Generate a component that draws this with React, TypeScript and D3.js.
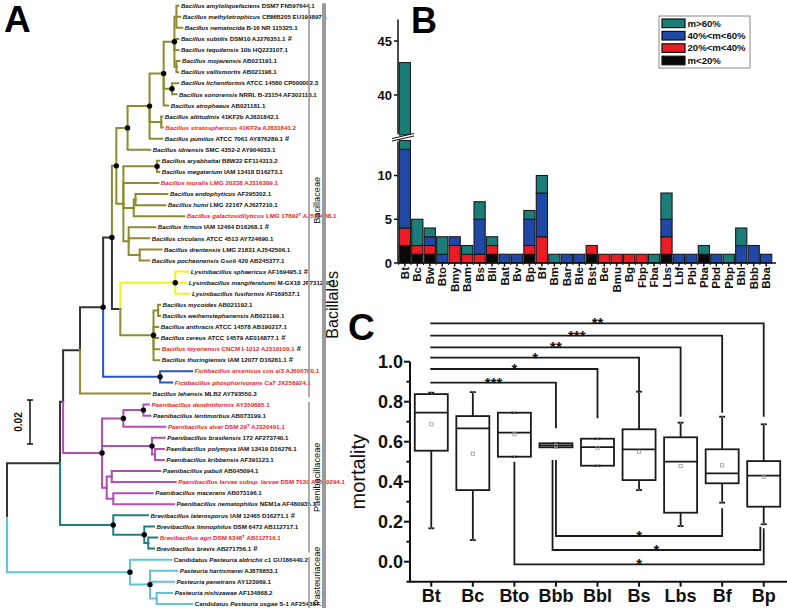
import React from 'react';
import * as d3 from 'd3';

const FONT = 'Arial, "Liberation Sans", Helvetica, sans-serif';
const INK = '#111';
const RED = '#ee1c24';

// ---------------- panel A : phylogeny ----------------
// branch lengths in substitutions/site, leaves named by their index in leafInfo
const subtilisGrp = '((0:0.0009,1:0.0018,2:0.0027)SA:0.0009,3:0.0018,4:0.0018,(5:0.0014,6:0.0009)SM:0.0009)S1:0.0049';
const s2Grp = `(${subtilisGrp},(7:0.0029,8:0.0020)L1:0.0038,9:0.0021)S2:0.0064`;
const pumilusGrp = `(${s2Grp},(10:0.0005,11:0.0007)AS:0.0053,12:0.0058)NSP:0.0100`;
const n127 = `(${pumilusGrp},13:0.0103)N127:0.0051`;
const megaGrp = '((14:0.0010,15:0.0010)AM:0.0153,16:0.0159,((17:0.0145,18:0.0136)EH:0.0008,19:0.0230)EHG:0.0047,(20:0.0121,21:0.0094,(22:0.0099,23:0.0044)DP:0.0050)FCDP:0.0024)M:0.0032';
const big1 = `(${n127},${megaGrp})BIG1:0.0020`;
const lysCer = '((24:0.0059,25:0.0050,26:0.0064)LYS:0.0250,((27:0.0009,28:0.0009)MW:0.0021,29:0.0021,30:0.0021,31:0.0026,32:0.0026)CER:0.0151)LC:0.0038';
const xNode = `(${big1},${lysCer})X:0.0040`;
const dNode = `(${xNode},(33:0.0145,34:0.0055)FICT:0.0259)D:0.0105`;
const eNode = `(${dNode},35:0.0318)E:0.0077`;
const paeni = '(((36:0.0025,37:0.0032)DL:0.0091,38:0.0191)AG:0.0097,(39:0.0058,(40:0.0040,41:0.0040)PK:0.0014)BPK:0.0227,((42:0.0221,43:0.0291)PL:0.0023,(44:0.0180,45:0.0276)MN:0.0030)PLMN:0.0021)Q:0.0177';
const gNode = `(${eNode},${paeni})G:0.0014`;
const brevi = '(46:0.0158,(47:0.0044,(48:0.0041,49:0.0026)AB:0.0018)BL:0.0141)BREV:0.0242';
const n1 = `(${gNode},${brevi})N1:0.0241`;
const pasteuria = '(50:0.0188,(51:0.0124,52:0.0109,(53:0.0071,54:0.0162)NU:0.0030)PH:0.0091)PAST:0.0559';
const treeNewick = `(${n1},${pasteuria})ROOT;`;

const dotNodes = ['S1', 'L1', 'S2', 'NSP', 'N127', 'BIG1', 'AM', 'X', 'LYS', 'D', 'CER', 'FICT', 'DL', 'AG', 'Q', 'BPK', 'BREV', 'BL', 'PAST', 'PH'];

const OLIVE = '#8c8c2e';
const cladeColors: Record<string, string> = {
  BIG1: OLIVE, CER: OLIVE, '35': OLIVE, LYS: '#f2f21a', FICT: '#2456c4',
  Q: '#b44db4', BREV: '#1f7f7f', PAST: '#62c3d8',
};

type Leaf = { pre?: string; it: string; post: string; red?: boolean; hash?: boolean };
const leafInfo: Leaf[] = [
  { it: 'Bacillus amyloliquefaciens', post: ' DSM7 FN597644.1' },
  { it: 'Bacillus methylotrophicus', post: ' CBMB205 EU194897.1' },
  { it: 'Bacillus nematocida', post: ' B-16 NR 115325.1' },
  { it: 'Bacillus subtilis', post: ' DSM10 AJ276351.1', hash: true },
  { it: 'Bacillus tequilensis', post: ' 10b HQ223107.1' },
  { it: 'Bacillus mojavensis', post: ' AB021191.1' },
  { it: 'Bacillus vallismortis', post: ' AB021198.1' },
  { it: 'Bacillus licheniformis', post: ' ATCC 14580 CP000002.3' },
  { it: 'Bacillus sonorensis', post: ' NRRL B-23154 AF302118.1' },
  { it: 'Bacillus atrophaeus', post: ' AB021181.1' },
  { it: 'Bacillus altitudinis', post: ' 41KF2b AJ831842.1' },
  { it: 'Bacillus stratosphericus', post: ' 41KF2a AJ831841.2', red: true },
  { it: 'Bacillus pumilus', post: ' ATCC 7061 AY876289.1', hash: true },
  { it: 'Bacillus idriensis', post: ' SMC 4352-2 AY904033.1' },
  { it: 'Bacillus aryabhattai', post: ' B8W22 EF114313.2' },
  { it: 'Bacillus megaterium', post: ' IAM 13418 D16273.1' },
  { it: 'Bacillus muralis', post: ' LMG 20238 AJ316309.1', red: true },
  { it: 'Bacillus endophyticus', post: ' AF295302.1' },
  { it: 'Bacillus humi', post: ' LMG 22167 AJ627210.1' },
  { it: 'Bacillus galactosidilyticus', post: ' LMG 17892^T AJ535638.1', red: true },
  { it: 'Bacillus firmus', post: ' IAM 12464 D16268.1', hash: true },
  { it: 'Bacillus circulans', post: ' ATCC 4513 AY724690.1' },
  { it: 'Bacillus drentensis', post: ' LMG 21831 AJ542506.1' },
  { it: 'Bacillus pocheonensis', post: ' Gsoil 420 AB245377.1' },
  { it: 'Lysinibacillus sphaericus', post: ' AF169495.1', hash: true },
  { it: 'Lysinibacillus mangiferahumi', post: ' M-GX18 JF731238.1' },
  { it: 'Lysinibacillus fusiformis', post: ' AF169537.1' },
  { it: 'Bacillus mycoides', post: ' AB021192.1' },
  { it: 'Bacillus weihenstephanensis', post: ' AB021199.1' },
  { it: 'Bacillus anthracis', post: ' ATCC 14578 AB190217.1' },
  { it: 'Bacillus cereus', post: ' ATCC 14579 AE016877.1', hash: true },
  { it: 'Bacillus toyonensis', post: ' CNCM I-1012 AJ310100.1', red: true, hash: true },
  { it: 'Bacillus thuringiensis', post: ' IAM 12077 D16281.1', hash: true },
  { it: 'Fictibacillus arsenicus', post: ' con a/3 AJ606700.1', red: true },
  { it: 'Fictibacillus phosphorivorans', post: ' Ca7 JX258924.1', red: true },
  { it: 'Bacillus lehensis', post: ' MLB2 AY793550.3' },
  { it: 'Paenibacillus dendritiformis', post: ' AY359885.1', red: true },
  { it: 'Paenibacillus lentimorbus', post: ' AB073199.1' },
  { it: 'Paenibacillus alvei', post: ' DSM 29^T AJ320491.1', red: true },
  { it: 'Paenibacillus brasilensis', post: ' 172 AF273740.1' },
  { it: 'Paenibacillus polymyxa', post: ' IAM 13419 D16276.1' },
  { it: 'Paenibacillus kribbensis', post: ' AF391123.1' },
  { it: 'Paenibacillus pabuli', post: ' AB045094.1' },
  { it: 'Paenibacillus larvae subsp. larvae', post: ' DSM 7030 AY530294.1', red: true },
  { it: 'Paenibacillus macerans', post: ' AB073196.1' },
  { it: 'Paenibacillus nematophilus', post: ' NEM1a AF480935.1' },
  { it: 'Brevibacillus laterosporus', post: ' IAM 12465 D16271.1', hash: true },
  { it: 'Brevibacillus limnophilus', post: ' DSM 6472 AB112717.1' },
  { it: 'Brevibacillus agri', post: ' DSM 6348^T AB112716.1', red: true },
  { it: 'Brevibacillus brevis', post: ' AB271756.1', hash: true },
  { pre: 'Candidatus ', it: 'Pasteuria aldrichii', post: ' c1 GU186440.2' },
  { it: 'Pasteuria hartismerei', post: ' AJ878853.1' },
  { it: 'Pasteuria penetrans', post: ' AY123969.1' },
  { it: 'Pasteuria nishizawae', post: ' AF134868.2' },
  { pre: 'Candidatus ', it: 'Pasteuria usgae', post: ' S-1 AF254387.1' },
];

const families = [
  { name: 'Bacillaceae', from: 0, to: 35 },
  { name: 'Paenibacillaceae', from: 36, to: 49 },
  { name: 'Pasteuriaceae', from: 50, to: 54 },
];
const orderName = 'Bacillales';
const scaleBarValue = 0.02;

// ---------------- panel B : stacked counts ----------------
const bCats = ['Bt', 'Bc', 'Bw', 'Bto', 'Bmy', 'Bam', 'Bs', 'Bli', 'Bat', 'Bv', 'Bp', 'Bf', 'Bm', 'Bar', 'Ble', 'Bst', 'Be', 'Bmu', 'Bg', 'Fbp', 'Fba', 'Lbs', 'Lbf', 'Pbl', 'Pba', 'Pbd', 'Pbp', 'Bbl', 'Bbb', 'Bba'];
const mLt20 = [2, 1, 1, 0, 0, 0, 0, 1, 0, 0, 1, 0, 0, 0, 0, 1, 0, 0, 0, 0, 0, 1, 0, 0, 1, 0, 0, 0, 0, 0];
const m20to40 = [2, 1, 1, 0, 2, 1, 1, 1, 0, 0, 1, 3, 0, 0, 0, 1, 1, 1, 1, 1, 0, 2, 0, 0, 0, 0, 0, 0, 0, 0];
const m40to60 = [9, 0, 1, 1, 1, 0, 4, 0, 1, 1, 3, 5, 0, 1, 1, 0, 0, 0, 0, 0, 0, 2, 1, 1, 0, 1, 0, 2, 2, 1];
const mGt60 = [30, 3, 1, 2, 0, 1, 2, 1, 0, 0, 1, 2, 1, 0, 0, 0, 0, 0, 0, 0, 1, 3, 0, 0, 1, 0, 1, 2, 0, 0];
const bKeys = ['lt20', 'r20', 'r40', 'gt60'];
const bLegend = [
  { key: 'gt60', label: 'm>60%' },
  { key: 'r40', label: '40%<m<60%' },
  { key: 'r20', label: '20%<m<40%' },
  { key: 'lt20', label: 'm<20%' },
];
const bColors: Record<string, string> = { gt60: '#1a7d78', r40: '#1f48a6', r20: '#ec1c24', lt20: '#0b0808' };
const bLowTicks = [0, 5, 10];
const bHighTicks = [40, 45];

// ---------------- panel C : mortality boxplots ----------------
const cCats = ['Bt', 'Bc', 'Bto', 'Bbb', 'Bbl', 'Bs', 'Lbs', 'Bf', 'Bp'];
const cMin = [0.167, 0.108, 0.525, 0.572, 0.48, 0.358, 0.178, 0.295, 0.187];
const cQ1 = [0.555, 0.358, 0.525, 0.572, 0.48, 0.408, 0.245, 0.392, 0.275];
const cMed = [0.745, 0.667, 0.645, 0.582, 0.573, 0.562, 0.5, 0.442, 0.43];
const cQ3 = [0.838, 0.728, 0.745, 0.592, 0.615, 0.662, 0.622, 0.562, 0.503];
const cMax = [0.845, 0.848, 0.745, 0.592, 0.615, 0.85, 0.695, 0.725, 0.687];
const cMean = [0.687, 0.54, 0.637, 0.58, 0.57, 0.55, 0.478, 0.482, 0.425];
const cTicks = [0, 0.2, 0.4, 0.6, 0.8, 1.0];
const cMinor = [-0.1, 0.1, 0.3, 0.5, 0.7, 0.9];
// significance brackets: from, to, level of the bar, where each leg ends
const topBrackets = [
  { a: 'Bt', b: 'Bp', level: 1.192, endB: 0.725, stars: '**' },
  { a: 'Bt', b: 'Bf', level: 1.13, endB: 0.745, stars: '***' },
  { a: 'Bt', b: 'Lbs', level: 1.072, endB: 0.725, stars: '**' },
  { a: 'Bt', b: 'Bs', level: 1.02, endB: 0.85, stars: '*' },
  { a: 'Bt', b: 'Bbl', level: 0.9635, endB: 0.717, stars: '*' },
  { a: 'Bt', b: 'Bbb', level: 0.895, endB: 0.667, stars: '***' },
];
const lowBrackets = [
  { a: 'Bbb', b: 'Bf', level: 0.1285, endA: 0.508, endB: 0.267, nudge: 0, stars: '*' },
  { a: 'Bbb', b: 'Bp', level: 0.0585, endA: 0.508, endB: 0.175, nudge: -1, stars: '*' },
  { a: 'Bto', b: 'Bp', level: -0.013, endA: 0.5, endB: 0.167, nudge: 0, stars: '*' },
];

// ---------- helpers ----------
type NwNode = { name: string; len: number; children?: NwNode[] };
function parseNewick(s: string): NwNode {
  let i = 0;
  const read = (): NwNode => {
    const kids: NwNode[] = [];
    if (s[i] === '(') {
      i++;
      kids.push(read());
      while (s[i] === ',') { i++; kids.push(read()); }
      i++;
    }
    let name = '';
    while (i < s.length && !',():;'.includes(s[i])) name += s[i++];
    let len = 0;
    if (s[i] === ':') {
      i++;
      let l = '';
      while (i < s.length && !',();'.includes(s[i])) l += s[i++];
      len = +l;
    }
    return kids.length ? { name, len, children: kids } : { name, len };
  };
  return read();
}

function Tree() {
  const tx = d3.scaleLinear().domain([0, 0.1]).range([7, 227]);
  const ty = d3.scaleLinear().domain([0, leafInfo.length - 1]).range([5.7, 604]);
  const root: any = d3.hierarchy(parseNewick(treeNewick));
  root.eachBefore((n: any) => {
    n.dist = n.parent ? n.parent.dist + n.data.len : 0;
    n.col = cladeColors[n.data.name] ?? (n.parent ? n.parent.col : '#333');
  });
  root.eachAfter((n: any) => {
    n.yy = n.children ? (n.children[0].yy + n.children[n.children.length - 1].yy) / 2 : ty(+n.data.name);
  });
  const nodes = root.descendants();
  const links = nodes.filter((n: any) => n.parent);

  const label = (n: any) => {
    const info = leafInfo[+n.data.name];
    const [a, b] = info.post.split('^T');
    return (
      <text key={'t' + n.data.name} x={tx(n.dist) + 2.5} y={n.yy} dy="0.35em" fontSize={6.2}
        fontWeight="bold" fill={info.red ? RED : INK}>
        {info.pre && <tspan>{info.pre}</tspan>}
        <tspan fontStyle="italic">{info.it}</tspan>
        <tspan>{a}</tspan>
        {b !== undefined && <tspan dy={-2} fontSize={4.3}>T</tspan>}
        {b !== undefined && <tspan dy={2}>{b}</tspan>}
        {info.hash && <tspan fill={INK} fontSize={7.5}> #</tspan>}
      </text>
    );
  };

  const barX0 = 309;
  const barX1 = 324;
  return (
    <g>
      {links.map((n: any, i: number) => (
        <path key={'l' + i} d={`M${tx(n.parent.dist)},${n.parent.yy}V${n.yy}H${tx(n.dist)}`}
          fill="none" stroke={n.col} strokeWidth={2} strokeLinecap="square" />
      ))}
      {nodes.filter((n: any) => dotNodes.includes(n.data.name)).map((n: any) => (
        <circle key={'d' + n.data.name} cx={tx(n.dist)} cy={n.yy} r={2.7} fill="#000" />
      ))}
      {root.leaves().map(label)}
      {/* scale bar */}
      <g stroke={INK} strokeWidth={1.5}>
        <line x1={30} x2={30} y1={400} y2={400 + tx(scaleBarValue) - tx(0)} />
        <line x1={27} x2={33} y1={400} y2={400} />
        <line x1={27} x2={33} y1={400 + tx(scaleBarValue) - tx(0)} y2={400 + tx(scaleBarValue) - tx(0)} />
      </g>
      <text transform={`translate(22,${400 + (tx(scaleBarValue) - tx(0)) / 2}) rotate(-90)`} textAnchor="middle"
        fontSize={10} fontWeight="bold" fill={INK}>{scaleBarValue.toFixed(2)}</text>
      {/* family / order brackets */}
      {families.map((f) => {
        const y0 = ty(f.from) - 2.5;
        const y1 = ty(f.to) + 4;
        const mid = Math.min((y0 + y1) / 2, 576);
        return (
          <g key={f.name}>
            <line x1={barX0} x2={barX0} y1={y0} y2={y1} stroke="#9a9a9a" strokeWidth={1.6} />
            <text transform={`translate(${barX0 + 11},${mid}) rotate(-90)`} textAnchor="middle"
              fontSize={9.2} fill={INK}>{f.name}</text>
          </g>
        );
      })}
      <line x1={barX1} x2={barX1} y1={ty(0) - 2.5} y2={ty(leafInfo.length - 1) + 4} stroke="#9a9a9a" strokeWidth={4} />
      <text transform={`translate(${barX1 + 14},${(ty(0) + ty(leafInfo.length - 1)) / 2}) rotate(-90)`}
        textAnchor="middle" fontSize={16} fill={INK}>{orderName}</text>
    </g>
  );
}

function PanelB() {
  const rows = bCats.map((c, i) => ({ cat: c, lt20: mLt20[i], r20: m20to40[i], r40: m40to60[i], gt60: mGt60[i] }));
  const series = d3.stack<any>().keys(bKeys)(rows);
  const x = d3.scaleBand().domain(bCats).range([398, 773]).padding(0.1);
  const yLow = d3.scaleLinear().domain([0, 14]).range([263, 140.5]);
  const yHigh = d3.scaleLinear().domain([36.3, 47]).range([135, 19.4]);
  const lowTop = yLow.domain()[1];
  const highBottom = yHigh.domain()[0];

  const rects: any[] = [];
  series.forEach((s) => {
    s.forEach((d: any, i: number) => {
      const [v0, v1] = d;
      if (v1 <= v0) return;
      const xx = x(bCats[i])!;
      if (v0 < lowTop) {
        const top = Math.min(v1, lowTop);
        rects.push(<rect key={`${s.key}-${i}-l`} x={xx} width={x.bandwidth()} y={yLow(top)} height={yLow(v0) - yLow(top)}
          fill={bColors[s.key]} stroke="#1a1a1a" strokeWidth={1.1} />);
      }
      if (v1 > highBottom) {
        const bot = Math.max(v0, highBottom);
        rects.push(<rect key={`${s.key}-${i}-h`} x={xx} width={x.bandwidth()} y={yHigh(v1)} height={yHigh(bot) - yHigh(v1)}
          fill={bColors[s.key]} stroke="#1a1a1a" strokeWidth={1.1} />);
      }
    });
  });

  const axX = 398;
  return (
    <g fontFamily={FONT}>
      {rects}
      {/* axis break */}
      <polygon points={`392,141 414,136 414,133.5 392,138.5`} fill="#fff" />
      <line x1={392} y1={141} x2={414} y2={136} stroke="#111" strokeWidth={1} />
      <line x1={392} y1={138.5} x2={414} y2={133.5} stroke="#111" strokeWidth={1} />
      <g stroke="#111" strokeWidth={1.5}>
        <line x1={axX} x2={axX} y1={yLow(0)} y2={yLow(lowTop) + 1} />
        <line x1={axX} x2={axX} y1={yHigh(highBottom) - 1} y2={yHigh(47)} />
        <line x1={axX} x2={776} y1={yLow(0)} y2={yLow(0)} />
        {bLowTicks.map((t) => <line key={'lt' + t} x1={axX - 4} x2={axX} y1={yLow(t)} y2={yLow(t)} />)}
        {bHighTicks.map((t) => <line key={'ht' + t} x1={axX - 4} x2={axX} y1={yHigh(t)} y2={yHigh(t)} />)}
        {bCats.map((c) => (
          <line key={'xt' + c} x1={x(c)! + x.bandwidth() / 2} x2={x(c)! + x.bandwidth() / 2} y1={yLow(0)} y2={yLow(0) + 3.5} />
        ))}
        {bCats.map((c) => (
          <line key={'xm' + c} x1={x(c)! - x.step() * x.paddingInner() / 2} x2={x(c)! - x.step() * x.paddingInner() / 2}
            y1={yLow(0)} y2={yLow(0) + 2} strokeWidth={1} />
        ))}
      </g>
      {bLowTicks.map((t) => (
        <text key={'ltl' + t} x={axX - 6} y={yLow(t)} dy="0.35em" textAnchor="end" fontSize={13} fontWeight="bold" fill={INK}>{t}</text>
      ))}
      {bHighTicks.map((t) => (
        <text key={'htl' + t} x={axX - 6} y={yHigh(t)} dy="0.35em" textAnchor="end" fontSize={13} fontWeight="bold" fill={INK}>{t}</text>
      ))}
      {bCats.map((c) => (
        <text key={'xl' + c} transform={`translate(${x(c)! + x.bandwidth() / 2},${yLow(0) + 4}) rotate(-90)`}
          dy="0.36em" textAnchor="end" fontSize={11.5} fontWeight="bold" fill={INK}>{c}</text>
      ))}
      {/* legend */}
      <rect x={659} y={16} width={91} height={52} fill="#fff" stroke="#8a8a8a" strokeWidth={1} />
      {bLegend.map((l, i) => (
        <g key={l.key}>
          <rect x={662} y={19 + i * 12.4} width={23} height={8.6} fill={bColors[l.key]} stroke="#111" strokeWidth={1.2} />
          <text x={687.5} y={23.3 + i * 12.4} dy="0.35em" fontSize={9.6} fontWeight="bold" fill={INK}>{l.label}</text>
        </g>
      ))}
    </g>
  );
}

function PanelC() {
  const x = d3.scalePoint().domain(cCats).range([410.5, 784.5]).padding(0.5);
  const y = d3.scaleLinear().domain([-0.1, 1.0]).range([581.7, 361.7]);
  const bw = 33;
  const cap = 6;
  const gap = 3.4;
  const px = (c: string) => x(c)!;
  return (
    <g fontFamily={FONT}>
      {cCats.map((c, i) => {
        const cx = px(c);
        return (
          <g key={c} stroke="#1a1a1a" strokeWidth={1.8} fill="none">
            <line x1={cx} x2={cx} y1={y(cMax[i])} y2={y(cQ3[i])} />
            <line x1={cx} x2={cx} y1={y(cQ1[i])} y2={y(cMin[i])} />
            <line x1={cx - cap / 2} x2={cx + cap / 2} y1={y(cMax[i])} y2={y(cMax[i])} />
            <line x1={cx - cap / 2} x2={cx + cap / 2} y1={y(cMin[i])} y2={y(cMin[i])} />
            <rect x={cx - bw / 2} width={bw} y={y(cQ3[i])} height={Math.max(0.5, y(cQ1[i]) - y(cQ3[i]))} />
            <line x1={cx - bw / 2} x2={cx + bw / 2} y1={y(cMed[i])} y2={y(cMed[i])} />
            <rect x={cx - 1.6} y={y(cMean[i]) - 1.6} width={3.2} height={3.2} stroke="#999" strokeWidth={0.8} />
            <g stroke="#aaa" strokeWidth={0.7}>
              <line x1={cx - 1} x2={cx + 1} y1={y(cMax[i]) - 1.5} y2={y(cMax[i]) + 1.5} />
              <line x1={cx - 1} x2={cx + 1} y1={y(cMin[i]) - 1.5} y2={y(cMin[i]) + 1.5} />
            </g>
          </g>
        );
      })}
      {/* significance brackets */}
      <g stroke="#1a1a1a" strokeWidth={1.8} fill="none">
        {topBrackets.map((b) => (
          <path key={'tb' + b.b} d={`M${px(b.a) - 1},${y(b.level)}H${px(b.b)}V${y(b.endB)}`} />
        ))}
        {lowBrackets.map((b, i) => (
          <path key={'lb' + i}
            d={`M${px(b.a) + b.nudge * gap},${y(b.endA)}V${y(b.level)}H${px(b.b) + b.nudge * gap}V${y(b.endB)}`} />
        ))}
      </g>
      {topBrackets.map((b) => (
        <text key={'ts' + b.b} x={(px(b.a) + px(b.b)) / 2} y={y(b.level) + 5} textAnchor="middle" fontSize={15}
          fontWeight="bold" fill={INK}>{b.stars}</text>
      ))}
      {lowBrackets.map((b, i) => (
        <text key={'ls' + i} x={(px(b.a) + px(b.b)) / 2 + b.nudge * gap} y={y(b.level) + 5} textAnchor="middle"
          fontSize={15} fontWeight="bold" fill={INK}>{b.stars}</text>
      ))}
      {/* axes */}
      <g stroke="#111" strokeWidth={2}>
        <line x1={410} x2={410} y1={y(1.0)} y2={y(-0.1)} />
        <line x1={409} x2={787} y1={y(-0.1)} y2={y(-0.1)} />
        {cTicks.map((t) => <line key={'ct' + t} x1={404} x2={410} y1={y(t)} y2={y(t)} />)}
        {cMinor.map((t) => <line key={'cm' + t} x1={406.5} x2={410} y1={y(t)} y2={y(t)} />)}
        {cCats.map((c) => <line key={'cx' + c} x1={px(c)} x2={px(c)} y1={y(-0.1)} y2={y(-0.1) + 5} />)}
      </g>
      {cTicks.map((t) => (
        <text key={'ctl' + t} x={403} y={y(t)} dy="0.35em" textAnchor="end" fontSize={18} fontWeight="bold" fill={INK}>{t.toFixed(1)}</text>
      ))}
      {cCats.map((c) => (
        <text key={'cxl' + c} x={px(c)} y={601.5} textAnchor="middle" fontSize={18} fontWeight="bold" fill={INK}>{c}</text>
      ))}
      <text transform={`translate(365,${y(0.45)}) rotate(-90)`} textAnchor="middle" fontSize={20} fill={INK}>mortality</text>
    </g>
  );
}

export default function App() {
  return (
    <div style={{ position: 'absolute', left: 0, top: 0 }}>
      <svg width={787} height={609} style={{ display: 'block', background: '#fff' }} fontFamily={FONT}>
        <Tree />
        <PanelB />
        <PanelC />
        <text x={4} y={32} fontSize={37} fontWeight="bold" fill="#000">A</text>
        <text x={411} y={33} fontSize={36} fontWeight="bold" fill="#000">B</text>
        <text x={348} y={340} fontSize={37} fontWeight="bold" fill="#000">C</text>
      </svg>
    </div>
  );
}
